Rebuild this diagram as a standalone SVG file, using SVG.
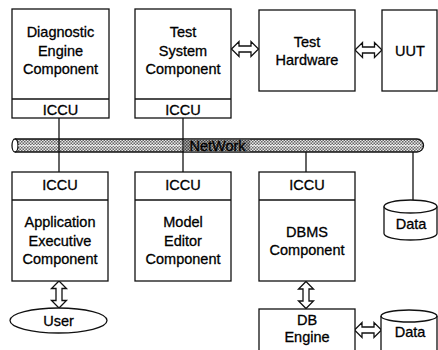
<svg xmlns="http://www.w3.org/2000/svg" width="438" height="350" viewBox="0 0 438 350">
<style>
.box{fill:#fff;stroke:#111;stroke-width:1.3}
.ln{stroke:#111;stroke-width:1.3;fill:none}
.t{font-family:"Liberation Sans",Arial,sans-serif;font-size:14.5px;fill:#000;stroke:#000;stroke-width:0.3;text-anchor:middle}
.arr{fill:#fff;stroke:#111;stroke-width:1.3;stroke-linejoin:miter}
</style>
<defs>
<pattern id="hatch" width="3" height="3" patternUnits="userSpaceOnUse">
<rect width="3" height="3" fill="#e6e6e6"/>
<rect width="1.5" height="1.5" fill="#666"/>
<rect x="1.5" y="1.5" width="1.5" height="1.5" fill="#666"/>
</pattern>
<pattern id="hatchDark" width="3" height="3" patternUnits="userSpaceOnUse">
<rect width="3" height="3" fill="#aaa"/>
<rect width="1.5" height="1.5" fill="#444"/>
<rect x="1.5" y="1.5" width="1.5" height="1.5" fill="#444"/>
</pattern>
<path id="dbl" d="M-13.5,0 L-6,-7.5 L-6,-3 L6,-3 L6,-7.5 L13.5,0 L6,7.5 L6,3 L-6,3 L-6,7.5 Z"/>
</defs>

<g id="network">
<path d="M15,139 L417,139 A6.5,6.5 0 0 1 417,152 L15,152" fill="url(#hatch)" stroke="#111" stroke-width="1.3"/>
<ellipse cx="15" cy="145.5" rx="3" ry="6.5" fill="#fff" stroke="#111" stroke-width="1.3"/>
<line x1="18" y1="145.7" x2="420" y2="145.7" stroke="#fff" stroke-width="0.8"/>
<rect x="184" y="139.6" width="66" height="12" fill="url(#hatchDark)"/>
<text class="t" x="217.5" y="150.5">NetWork</text>
</g>

<g id="connectors">
<line class="ln" x1="59" y1="118" x2="59" y2="172"/>
<line class="ln" x1="183" y1="118" x2="183" y2="172"/>
<line class="ln" x1="306" y1="152" x2="306" y2="172"/>
<line class="ln" x1="413" y1="152" x2="413" y2="200"/>
<use href="#dbl" class="arr" transform="translate(245,49)"/>
<use href="#dbl" class="arr" transform="translate(368.5,50)"/>
<use href="#dbl" class="arr" transform="translate(59,294.5) rotate(90)"/>
<use href="#dbl" class="arr" transform="translate(306,295) rotate(90)"/>
<use href="#dbl" class="arr" transform="translate(368,330)"/>
</g>

<g id="diagnostic-engine">
<rect class="box" x="12" y="9" width="97" height="109"/>
<line class="ln" x1="12" y1="99" x2="109" y2="99"/>
<text class="t" x="60.5" y="37">Diagnostic</text>
<text class="t" x="60.5" y="55.5">Engine</text>
<text class="t" x="60.5" y="74">Component</text>
<text class="t" x="60.5" y="114.5">ICCU</text>
</g>

<g id="test-system">
<rect class="box" x="135" y="9" width="96" height="109"/>
<line class="ln" x1="135" y1="99" x2="231" y2="99"/>
<text class="t" x="183" y="37">Test</text>
<text class="t" x="183" y="55.5">System</text>
<text class="t" x="183" y="74">Component</text>
<text class="t" x="183" y="114.5">ICCU</text>
</g>

<g id="test-hardware">
<rect class="box" x="259" y="10" width="96" height="81"/>
<text class="t" x="307" y="46.5">Test</text>
<text class="t" x="307" y="64.5">Hardware</text>
</g>

<g id="uut">
<rect class="box" x="382" y="10" width="55" height="81"/>
<text class="t" x="410" y="55.5">UUT</text>
</g>

<g id="application-executive">
<rect class="box" x="12" y="172" width="96" height="109"/>
<line class="ln" x1="12" y1="200" x2="108" y2="200"/>
<text class="t" x="60" y="189.5">ICCU</text>
<text class="t" x="60" y="227">Application</text>
<text class="t" x="60" y="245.5">Executive</text>
<text class="t" x="60" y="264">Component</text>
</g>

<g id="model-editor">
<rect class="box" x="135" y="172" width="96" height="109"/>
<line class="ln" x1="135" y1="200" x2="231" y2="200"/>
<text class="t" x="183" y="189.5">ICCU</text>
<text class="t" x="183" y="227">Model</text>
<text class="t" x="183" y="245.5">Editor</text>
<text class="t" x="183" y="264">Component</text>
</g>

<g id="dbms">
<rect class="box" x="259" y="172" width="96" height="109"/>
<line class="ln" x1="259" y1="200" x2="355" y2="200"/>
<text class="t" x="307" y="189.5">ICCU</text>
<text class="t" x="307" y="236.5">DBMS</text>
<text class="t" x="307" y="255">Component</text>
</g>

<g id="data-top">
<path class="box" d="M384,206.5 A26.5,6.5 0 0 1 437,206.5 L437,233.5 A26.5,6.5 0 0 1 384,233.5 Z"/>
<path class="ln" d="M384,206.5 A26.5,6.5 0 0 0 437,206.5"/>
<text class="t" x="411" y="228.5">Data</text>
</g>

<g id="user">
<ellipse class="box" cx="58.5" cy="320.5" rx="48.5" ry="12.5"/>
<text class="t" x="58.5" y="326">User</text>
</g>

<g id="db-engine">
<rect class="box" x="259" y="309" width="96" height="45"/>
<text class="t" x="307" y="324.5">DB</text>
<text class="t" x="307" y="342">Engine</text>
</g>

<g id="data-bottom">
<path class="box" d="M381,316 A28,6 0 0 1 437,316 L437,360 L381,360 Z"/>
<path class="ln" d="M381,316 A28,6 0 0 0 437,316"/>
<text class="t" x="410" y="337">Data</text>
</g>
</svg>
